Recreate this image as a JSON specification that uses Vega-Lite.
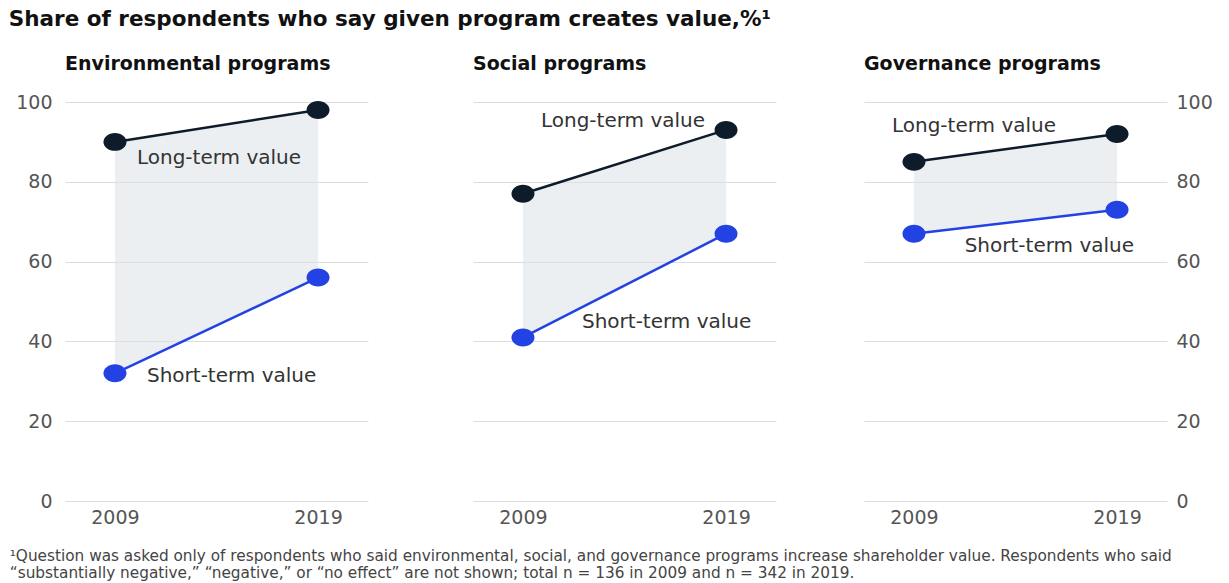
{
  "$schema": "https://vega.github.io/schema/vega-lite/v6.json",
  "padding": {"left": 8, "top": 8, "right": 5, "bottom": 2},
  "background": "white",
  "config": {
    "font": "DejaVu Sans",
    "view": {"stroke": null},
    "axis": {"domain": false, "ticks": false, "labelColor": "#555555", "labelFontSize": 19, "labelFont": "DejaVu Sans", "gridColor": "#dcdcdc", "gridWidth": 1},
    "title": {"font": "DejaVu Sans", "color": "#111111", "anchor": "start"}
  },
  "datasets": {
    "esg": [
      {"panel": "Environmental", "year": 2009, "long": 90, "short": 32},
      {"panel": "Environmental", "year": 2019, "long": 98, "short": 56},
      {"panel": "Social", "year": 2009, "long": 77, "short": 41},
      {"panel": "Social", "year": 2019, "long": 93, "short": 67},
      {"panel": "Governance", "year": 2009, "long": 85, "short": 67},
      {"panel": "Governance", "year": 2019, "long": 92, "short": 73}
    ]
  },
  "title": {
    "text": ["¹Question was asked only of respondents who said environmental, social, and governance programs increase shareholder value. Respondents who said", "“substantially negative,” “negative,” or “no effect” are not shown; total n = 136 in 2009 and n = 342 in 2019."],
    "orient": "bottom",
    "anchor": "start",
    "frame": "bounds",
    "fontSize": 15.3,
    "fontWeight": "normal",
    "color": "#444444",
    "lineHeight": 17,
    "offset": 22,
    "dx": 1
  },
  "vconcat": [
    {
      "title": {"text": "Share of respondents who say given program creates value,%¹", "fontSize": 21.5, "fontWeight": "bold", "frame": "bounds", "anchor": "start", "offset": 25, "dx": -7},
      "spacing": 105,
      "hconcat": [
        {
          "width": 303,
          "height": 399,
          "title": {"text": "Environmental programs", "fontSize": 19, "fontWeight": "bold", "anchor": "start", "frame": "group", "offset": 19},
          "data": {"name": "esg"},
          "transform": [{"filter": "datum.panel === 'Environmental'"}],
          "encoding": {
            "x": {"field": "year", "type": "quantitative", "title": null, "scale": {"domain": [2006.54, 2021.46]}, "axis": {"values": [2009, 2019], "format": "d", "grid": false, "labelPadding": 7}}
          },
          "layer": [
            {"mark": {"type": "area", "color": "#dde1e6", "opacity": 0.55}, "encoding": {"y": {"field": "long", "type": "quantitative", "title": null, "scale": {"domain": [0, 100], "nice": false}, "axis": {"values": [0, 20, 40, 60, 80, 100], "grid": true, "labelPadding": 13}}, "y2": {"field": "short"}}},
            {"mark": {"type": "line", "color": "#0d1b2a", "strokeWidth": 2.5}, "encoding": {"y": {"field": "long", "type": "quantitative", "title": null}}},
            {"mark": {"type": "line", "color": "#2242e3", "strokeWidth": 2.5}, "encoding": {"y": {"field": "short", "type": "quantitative", "title": null}}},
            {"mark": {"type": "point", "shape": "M-1,0A1,0.78,0,1,0,1,0A1,0.78,0,1,0,-1,0Z", "size": 529, "filled": true, "opacity": 1, "color": "#0d1b2a"}, "encoding": {"y": {"field": "long", "type": "quantitative", "title": null}}},
            {"mark": {"type": "point", "shape": "M-1,0A1,0.78,0,1,0,1,0A1,0.78,0,1,0,-1,0Z", "size": 529, "filled": true, "opacity": 1, "color": "#2242e3"}, "encoding": {"y": {"field": "short", "type": "quantitative", "title": null}}},
            {"transform": [{"filter": "datum.year === 2009"}], "mark": {"type": "text", "align": "left", "baseline": "middle", "dx": 22, "dy": 16, "fontSize": 20, "color": "#333333"}, "encoding": {"y": {"field": "long", "type": "quantitative", "title": null}, "text": {"value": "Long-term value"}}},
            {"transform": [{"filter": "datum.year === 2009"}], "mark": {"type": "text", "align": "left", "baseline": "middle", "dx": 32, "dy": 3, "fontSize": 20, "color": "#333333"}, "encoding": {"y": {"field": "short", "type": "quantitative", "title": null}, "text": {"value": "Short-term value"}}}
          ]
        },
        {
          "spacing": 88,
          "hconcat": [
            {
              "width": 303,
              "height": 399,
              "title": {"text": "Social programs", "fontSize": 19, "fontWeight": "bold", "anchor": "start", "frame": "group", "offset": 28},
              "data": {"name": "esg"},
              "transform": [{"filter": "datum.panel === 'Social'"}],
              "encoding": {
                "x": {"field": "year", "type": "quantitative", "title": null, "scale": {"domain": [2006.54, 2021.46]}, "axis": {"values": [2009, 2019], "format": "d", "grid": false, "labelPadding": 7}}
              },
              "layer": [
                {"mark": {"type": "area", "color": "#dde1e6", "opacity": 0.55}, "encoding": {"y": {"field": "long", "type": "quantitative", "title": null, "scale": {"domain": [0, 100], "nice": false}, "axis": {"values": [0, 20, 40, 60, 80, 100], "grid": true, "labels": false}}, "y2": {"field": "short"}}},
                {"mark": {"type": "line", "color": "#0d1b2a", "strokeWidth": 2.5}, "encoding": {"y": {"field": "long", "type": "quantitative", "title": null}}},
                {"mark": {"type": "line", "color": "#2242e3", "strokeWidth": 2.5}, "encoding": {"y": {"field": "short", "type": "quantitative", "title": null}}},
                {"mark": {"type": "point", "shape": "M-1,0A1,0.78,0,1,0,1,0A1,0.78,0,1,0,-1,0Z", "size": 529, "filled": true, "opacity": 1, "color": "#0d1b2a"}, "encoding": {"y": {"field": "long", "type": "quantitative", "title": null}}},
                {"mark": {"type": "point", "shape": "M-1,0A1,0.78,0,1,0,1,0A1,0.78,0,1,0,-1,0Z", "size": 529, "filled": true, "opacity": 1, "color": "#2242e3"}, "encoding": {"y": {"field": "short", "type": "quantitative", "title": null}}},
                {"transform": [{"filter": "datum.year === 2019"}], "mark": {"type": "text", "align": "right", "baseline": "middle", "dx": -21, "dy": -9, "fontSize": 20, "color": "#333333"}, "encoding": {"y": {"field": "long", "type": "quantitative", "title": null}, "text": {"value": "Long-term value"}}},
                {"transform": [{"filter": "datum.year === 2009"}], "mark": {"type": "text", "align": "left", "baseline": "middle", "dx": 59, "dy": -15, "fontSize": 20, "color": "#333333"}, "encoding": {"y": {"field": "short", "type": "quantitative", "title": null}, "text": {"value": "Short-term value"}}}
              ]
            },
            {
              "width": 303,
              "height": 399,
              "title": {"text": "Governance programs", "fontSize": 19, "fontWeight": "bold", "anchor": "start", "frame": "group", "offset": 19},
              "data": {"name": "esg"},
              "transform": [{"filter": "datum.panel === 'Governance'"}],
              "encoding": {
                "x": {"field": "year", "type": "quantitative", "title": null, "scale": {"domain": [2006.54, 2021.46]}, "axis": {"values": [2009, 2019], "format": "d", "grid": false, "labelPadding": 7}}
              },
              "layer": [
                {"mark": {"type": "area", "color": "#dde1e6", "opacity": 0.55}, "encoding": {"y": {"field": "long", "type": "quantitative", "title": null, "scale": {"domain": [0, 100], "nice": false}, "axis": {"values": [0, 20, 40, 60, 80, 100], "grid": true, "orient": "right", "labelPadding": 9}}, "y2": {"field": "short"}}},
                {"mark": {"type": "line", "color": "#0d1b2a", "strokeWidth": 2.5}, "encoding": {"y": {"field": "long", "type": "quantitative", "title": null}}},
                {"mark": {"type": "line", "color": "#2242e3", "strokeWidth": 2.5}, "encoding": {"y": {"field": "short", "type": "quantitative", "title": null}}},
                {"mark": {"type": "point", "shape": "M-1,0A1,0.78,0,1,0,1,0A1,0.78,0,1,0,-1,0Z", "size": 529, "filled": true, "opacity": 1, "color": "#0d1b2a"}, "encoding": {"y": {"field": "long", "type": "quantitative", "title": null}}},
                {"mark": {"type": "point", "shape": "M-1,0A1,0.78,0,1,0,1,0A1,0.78,0,1,0,-1,0Z", "size": 529, "filled": true, "opacity": 1, "color": "#2242e3"}, "encoding": {"y": {"field": "short", "type": "quantitative", "title": null}}},
                {"transform": [{"filter": "datum.year === 2009"}], "mark": {"type": "text", "align": "left", "baseline": "middle", "dx": -22, "dy": -36, "fontSize": 20, "color": "#333333"}, "encoding": {"y": {"field": "long", "type": "quantitative", "title": null}, "text": {"value": "Long-term value"}}},
                {"transform": [{"filter": "datum.year === 2019"}], "mark": {"type": "text", "align": "right", "baseline": "middle", "dx": 17, "dy": 36, "fontSize": 20, "color": "#333333"}, "encoding": {"y": {"field": "short", "type": "quantitative", "title": null}, "text": {"value": "Short-term value"}}}
              ]
            }
          ]
        }
      ]
    }
  ]
}
